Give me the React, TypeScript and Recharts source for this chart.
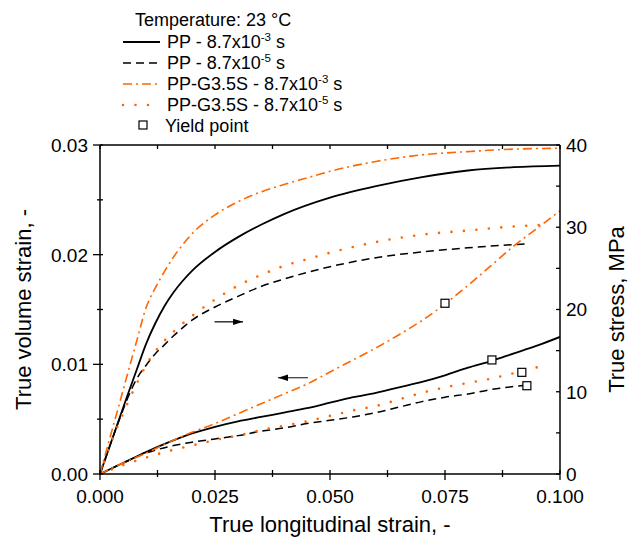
import React from 'react';
import { ComposedChart, Line, Scatter, XAxis, YAxis, Label } from 'recharts';

const FONT = '"Liberation Sans", Arial, Helvetica, sans-serif';
const ORANGE = '#FF6600';

// ---- axis ticks ----
const xTicks = [0, 0.0125, 0.025, 0.0375, 0.05, 0.0625, 0.075, 0.0875, 0.1];
const xMajor = [0, 0.025, 0.05, 0.075, 0.1];
const leftTicks = [0, 0.005, 0.01, 0.015, 0.02, 0.025, 0.03];
const leftMajor = [0, 0.01, 0.02, 0.03];
const rightTicks = [0, 5, 10, 15, 20, 25, 30, 35, 40];
const rightMajor = [0, 10, 20, 30, 40];

// ---- stress curves (right axis, MPa) ----
const ppFastX = [0, 0.002, 0.004, 0.006, 0.008, 0.010, 0.012, 0.014, 0.016, 0.018, 0.020, 0.025, 0.030, 0.035, 0.040, 0.050, 0.060, 0.070, 0.080, 0.090, 0.100];
const ppFastStress = [0, 3.2, 6.4, 9.6, 12.7, 15.8, 18.3, 20.4, 22.1, 23.5, 24.7, 27.0, 28.8, 30.3, 31.6, 33.6, 35.0, 36.1, 36.9, 37.3, 37.5];

const ppSlowX = [0, 0.002, 0.004, 0.006, 0.008, 0.010, 0.012, 0.014, 0.016, 0.018, 0.020, 0.025, 0.030, 0.035, 0.040, 0.050, 0.060, 0.070, 0.080, 0.093];
const ppSlowStress = [0, 3.2, 6.3, 9.2, 11.6, 13.2, 14.6, 15.7, 16.8, 17.8, 18.7, 20.3, 21.6, 22.8, 23.7, 25.2, 26.3, 27.0, 27.5, 28.0];

const gFastX = [0, 0.002, 0.004, 0.006, 0.008, 0.010, 0.012, 0.014, 0.016, 0.018, 0.020, 0.025, 0.030, 0.035, 0.040, 0.045, 0.050, 0.060, 0.070, 0.080, 0.090, 0.100];
const gFastStress = [0, 4.1, 8.1, 12.2, 16.2, 20.2, 22.6, 24.6, 26.4, 27.9, 29.2, 31.5, 33.1, 34.3, 35.2, 36.0, 36.8, 38.0, 38.8, 39.2, 39.5, 39.6];

const gSlowX = [0, 0.002, 0.004, 0.006, 0.008, 0.010, 0.012, 0.014, 0.016, 0.018, 0.020, 0.025, 0.030, 0.035, 0.040, 0.045, 0.050, 0.060, 0.070, 0.080, 0.090, 0.097];
const gSlowStress = [0, 3.2, 6.0, 8.6, 11.0, 13.2, 14.9, 16.2, 17.3, 18.3, 19.2, 21.2, 22.9, 24.2, 25.3, 26.1, 26.9, 28.2, 29.1, 29.6, 30.1, 30.3];

// ---- volume strain curves (left axis) ----
const ppFastVolX = [0, 0.005, 0.010, 0.015, 0.020, 0.025, 0.030, 0.035, 0.040, 0.045, 0.050, 0.055, 0.060, 0.065, 0.070, 0.075, 0.080, 0.085, 0.090, 0.095, 0.100];
const ppFastVol = [0, 0.0010, 0.0020, 0.0029, 0.0037, 0.0043, 0.0048, 0.0052, 0.0056, 0.0060, 0.0065, 0.0070, 0.0074, 0.0079, 0.0084, 0.0090, 0.0097, 0.0103, 0.0110, 0.0117, 0.0125];

const ppSlowVolX = [0, 0.005, 0.010, 0.015, 0.020, 0.025, 0.030, 0.035, 0.040, 0.045, 0.050, 0.055, 0.060, 0.065, 0.070, 0.075, 0.080, 0.085, 0.0928];
const ppSlowVol = [0, 0.0010, 0.0019, 0.0025, 0.0029, 0.0032, 0.0035, 0.0039, 0.0042, 0.0046, 0.0049, 0.0052, 0.0056, 0.0061, 0.0066, 0.0070, 0.0073, 0.0077, 0.0081];

const gFastVolX = [0, 0.005, 0.010, 0.015, 0.020, 0.025, 0.030, 0.035, 0.040, 0.045, 0.050, 0.055, 0.060, 0.065, 0.070, 0.075, 0.080, 0.085, 0.090, 0.095, 0.100];
const gFastVol = [0, 0.0010, 0.0019, 0.0029, 0.0038, 0.0046, 0.0055, 0.0064, 0.0073, 0.0082, 0.0093, 0.0104, 0.0115, 0.0127, 0.0140, 0.0155, 0.0172, 0.0190, 0.0208, 0.0224, 0.0240];

const gSlowVolX = [0, 0.005, 0.010, 0.015, 0.020, 0.025, 0.030, 0.035, 0.040, 0.045, 0.050, 0.055, 0.060, 0.065, 0.070, 0.075, 0.080, 0.085, 0.090, 0.0975];
const gSlowVol = [0, 0.0008, 0.0015, 0.0021, 0.0026, 0.0031, 0.0035, 0.0040, 0.0044, 0.0048, 0.0053, 0.0058, 0.0062, 0.0068, 0.0074, 0.0079, 0.0083, 0.0087, 0.0092, 0.0100];

// ---- yield points (left axis) ----
const yieldX = [0.075, 0.0852, 0.0917, 0.0928];
const yieldVol = [0.01557, 0.0104, 0.00927, 0.00805];

// ---- arrows ----
const rightArrowX = [0.0249, 0.0311];
const rightArrowY = [18.5, 18.5];
const leftArrowX = [0.0452, 0.0387];
const leftArrowY = [0.00878, 0.00878];

// ---- legend ----
const legendTitle = 'Temperature: 23 °C';
const legendNames = ['PP - 8.7x10', 'PP - 8.7x10', 'PP-G3.5S - 8.7x10', 'PP-G3.5S - 8.7x10'];
const legendExps = ['-3', '-5', '-3', '-5'];
const yieldLabel = 'Yield point';

const zip = (xs: number[], ys: number[]) => xs.map((x, i) => ({ x, y: ys[i] }));
const near = (arr: number[], v: number) => arr.some((a) => Math.abs(a - v) < 1e-9);

const styles = [
  { stroke: '#000', width: 1.8, dash: undefined as string | undefined, cap: 'butt' },
  { stroke: '#000', width: 1.5, dash: '8 5', cap: 'butt' },
  { stroke: ORANGE, width: 1.6, dash: '9 4 2 4', cap: 'butt' },
  { stroke: ORANGE, width: 2.6, dash: '0 12.5', cap: 'round' },
];

const BottomTick = (p: any) => {
  const { x, y, payload } = p;
  const major = near(xMajor, payload.value);
  return (
    <g>
      <line x1={x} x2={x} y1={y - 4} y2={y + (major ? 6 : 3)} stroke="#000" strokeWidth={1.3} />
      {major && (
        <text x={x} y={y + 29} textAnchor="middle" fontSize={19} fontFamily={FONT} fill="#000">
          {payload.value.toFixed(3)}
        </text>
      )}
    </g>
  );
};

const TopTick = (p: any) => {
  const { x, y } = p;
  return <line x1={x} x2={x} y1={y} y2={y + 4} stroke="#000" strokeWidth={1.3} />;
};

const LeftTick = (p: any) => {
  const { x, y, payload } = p;
  const major = near(leftMajor, payload.value);
  return (
    <g>
      <line x1={x - (major ? 7 : 3)} x2={x + 3} y1={y} y2={y} stroke="#000" strokeWidth={1.3} />
      {major && (
        <text x={x - 12} y={y} dy="0.36em" textAnchor="end" fontSize={19} fontFamily={FONT} fill="#000">
          {payload.value.toFixed(2)}
        </text>
      )}
    </g>
  );
};

const RightTick = (p: any) => {
  const { x, y, payload } = p;
  const major = near(rightMajor, payload.value);
  return (
    <g>
      <line x1={x - 4} x2={x} y1={y} y2={y} stroke="#000" strokeWidth={1.3} />
      {major && (
        <text x={x + 6} y={y} dy="0.36em" textAnchor="start" fontSize={19} fontFamily={FONT} fill="#000">
          {String(payload.value)}
        </text>
      )}
    </g>
  );
};

const Square = (p: any) => {
  const { cx, cy } = p;
  return <rect x={cx - 4} y={cy - 4} width={8} height={8} fill="#fff" stroke="#000" strokeWidth={1.2} />;
};

const arrowDot = (dir: number) => (p: any) => {
  const { cx, cy, index } = p;
  if (index !== 1) return <g key={`a${index}`} />;
  const pts = `${cx},${cy} ${cx - dir * 10},${cy - 3.2} ${cx - dir * 10},${cy + 3.2}`;
  return <polygon key={`a${index}`} points={pts} fill="#000" />;
};

const Legend = () => (
  <svg width={633} height={140} style={{ position: 'absolute', left: 0, top: 0, pointerEvents: 'none' }}>
    <text x={135} y={26} fontSize={18} fontFamily={FONT} fill="#000">{legendTitle}</text>
    {legendNames.map((name, i) => {
      const base = 48 + i * 21;
      const s = styles[i];
      return (
        <g key={i}>
          <line x1={123} x2={160} y1={base - 6} y2={base - 6} stroke={s.stroke} strokeWidth={s.width}
            strokeDasharray={s.dash} strokeLinecap={s.cap as any} />
          <text x={167} y={base} fontSize={18} fontFamily={FONT} fill="#000">
            {name}
            <tspan dy={-7} fontSize={11.5}>{legendExps[i]}</tspan>
            <tspan dy={7} fontSize={18}>{' s'}</tspan>
          </text>
        </g>
      );
    })}
    <rect x={139} y={121} width={8} height={8} fill="#fff" stroke="#000" strokeWidth={1.2} />
    <text x={165} y={132} fontSize={18} fontFamily={FONT} fill="#000">{yieldLabel}</text>
  </svg>
);

export default function App() {
  const series = [
    { data: zip(ppFastX, ppFastStress), axis: 'right', s: styles[0] },
    { data: zip(ppSlowX, ppSlowStress), axis: 'right', s: styles[1] },
    { data: zip(gFastX, gFastStress), axis: 'right', s: styles[2] },
    { data: zip(gSlowX, gSlowStress), axis: 'right', s: styles[3] },
    { data: zip(ppFastVolX, ppFastVol), axis: 'left', s: styles[0] },
    { data: zip(ppSlowVolX, ppSlowVol), axis: 'left', s: styles[1] },
    { data: zip(gFastVolX, gFastVol), axis: 'left', s: styles[2] },
    { data: zip(gSlowVolX, gSlowVol), axis: 'left', s: styles[3] },
  ];
  return (
    <div style={{ position: 'absolute', left: 0, top: 0, width: 633, height: 540, background: '#fff' }}>
      <ComposedChart width={633} height={540} margin={{ top: 140, right: 28, bottom: 6, left: 40 }}>
        <XAxis xAxisId="bottom" dataKey="x" type="number" domain={[0, 0.1]} ticks={xTicks} interval={0}
          allowDataOverflow height={60} tickSize={0} tickMargin={0} tickLine={false}
          axisLine={{ stroke: '#000', strokeWidth: 1.5 }} tick={BottomTick}>
          <Label content={(p: any) => {
            const vb = p.viewBox;
            return (
              <text x={vb.x + vb.width / 2} y={vb.y + 58} textAnchor="middle" fontSize={22} fontFamily={FONT} fill="#000">
                True longitudinal strain, -
              </text>
            );
          }} />
        </XAxis>
        <XAxis xAxisId="top" orientation="top" dataKey="x" type="number" domain={[0, 0.1]} ticks={xTicks} interval={0}
          allowDataOverflow height={5} tickSize={0} tickMargin={0} tickLine={false}
          axisLine={{ stroke: '#000', strokeWidth: 1.5 }} tick={TopTick} />
        <YAxis yAxisId="left" type="number" domain={[0, 0.03]} ticks={leftTicks} interval={0} allowDataOverflow
          width={60} tickSize={0} tickMargin={0} tickLine={false}
          axisLine={{ stroke: '#000', strokeWidth: 1.5 }} tick={LeftTick}>
          <Label content={(p: any) => {
            const vb = p.viewBox;
            const cx = vb.x - 9;
            const cy = vb.y + vb.height / 2;
            return (
              <text x={cx} y={cy} transform={`rotate(-90 ${cx} ${cy})`} textAnchor="middle" fontSize={22} fontFamily={FONT} fill="#000">
                True volume strain, -
              </text>
            );
          }} />
        </YAxis>
        <YAxis yAxisId="right" orientation="right" type="number" domain={[0, 40]} ticks={rightTicks} interval={0}
          allowDataOverflow width={45} tickSize={0} tickMargin={0} tickLine={false}
          axisLine={{ stroke: '#000', strokeWidth: 1.5 }} tick={RightTick}>
          <Label content={(p: any) => {
            const vb = p.viewBox;
            const cx = vb.x + vb.width + 19;
            const cy = vb.y + vb.height / 2;
            return (
              <text x={cx} y={cy} transform={`rotate(-90 ${cx} ${cy})`} textAnchor="middle" fontSize={22} fontFamily={FONT} fill="#000">
                True stress, MPa
              </text>
            );
          }} />
        </YAxis>

        {series.map((sr, i) => (
          <Line key={i} xAxisId="bottom" yAxisId={sr.axis} data={sr.data} dataKey="y" type="monotone"
            stroke={sr.s.stroke} strokeWidth={sr.s.width} strokeDasharray={sr.s.dash}
            strokeLinecap={sr.s.cap as any} dot={false} activeDot={false} isAnimationActive={false} />
        ))}

        <Line xAxisId="bottom" yAxisId="right" data={zip(rightArrowX, rightArrowY)} dataKey="y" type="linear"
          stroke="#000" strokeWidth={1.2} dot={arrowDot(1)} activeDot={false} isAnimationActive={false} />
        <Line xAxisId="bottom" yAxisId="left" data={zip(leftArrowX, leftArrowY)} dataKey="y" type="linear"
          stroke="#333" strokeWidth={1.2} dot={arrowDot(-1)} activeDot={false} isAnimationActive={false} />

        <Scatter xAxisId="bottom" yAxisId="left" data={zip(yieldX, yieldVol)} dataKey="y" shape={Square}
          isAnimationActive={false} />
      </ComposedChart>
      <Legend />
    </div>
  );
}
